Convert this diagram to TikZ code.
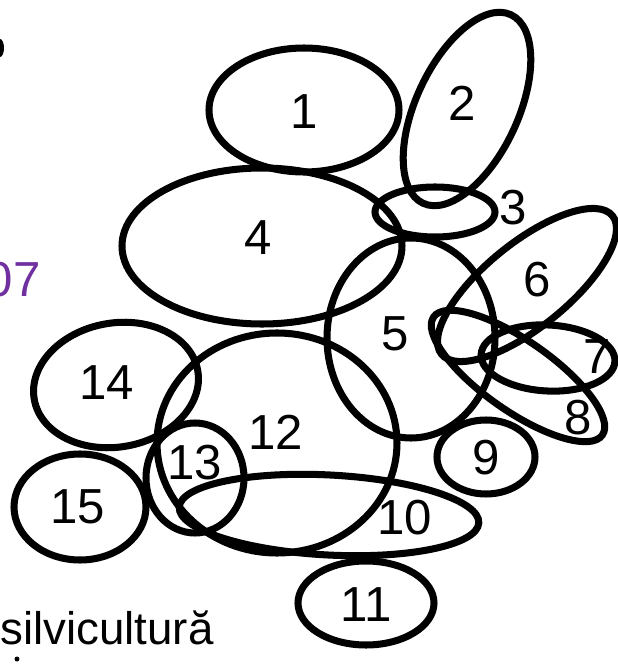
\documentclass[tikz,border=0pt]{standalone}
\usepackage{fontspec}
\setmainfont{Liberation Sans}
\usepackage{xcolor}
\usepackage{tikz}
\tikzstyle{setline} = [draw, line width=4pt]
\tikzstyle{setlabel} = [inner sep=0pt, font=\fontsize{28}{32}\selectfont]
\definecolor{bpurp}{HTML}{7030A0}

\begin{document}
\begin{tikzpicture}[x=0.02cm, y=0.02cm]
    \useasboundingbox (0,0) rectangle (618,664);
    \clip (0,0) rectangle (618,664);

    % sets
    \path[setline] (304,554) ellipse [x radius=95, y radius=62];
    \path[setline, rotate around={65:(467,555)}] (467,555) ellipse [x radius=104, y radius=51];
    \path[setline] (435,452) ellipse [x radius=60, y radius=25];
    \path[setline] (262,418) ellipse [x radius=140, y radius=78];
    \path[setline] (411,326) ellipse [x radius=84, y radius=100];
    \path[setline, rotate around={39:(527,379)}] (527,379) ellipse [x radius=110, y radius=42];
    \path[setline, rotate around={-3:(548,306)}] (548,306) ellipse [x radius=67, y radius=33];
    \path[setline, rotate around={-35:(518,288)}] (518,288) ellipse [x radius=103, y radius=35];
    \path[setline] (486,207) ellipse [x radius=49, y radius=37];
    \path[setline, rotate around={-3:(329,149)}] (329,149) ellipse [x radius=150, y radius=40];
    \path[setline] (366,61) ellipse [x radius=68, y radius=42];
    \path[setline] (277,221) ellipse [x radius=120, y radius=110];
    \path[setline] (195,186) ellipse [x radius=49, y radius=55];
    \path[setline, rotate around={10:(116,279)}] (116,279) ellipse [x radius=83, y radius=62];
    \path[setline] (80,157) ellipse [x radius=66, y radius=53];

    % set numbers
    \node[setlabel] at (304,552) (l1) {1};
    \node[setlabel] at (462,561) (l2) {2};
    \node[setlabel] at (513,456) (l3) {3};
    \node[setlabel] at (258,426) (l4) {4};
    \node[setlabel] at (395,330) (l5) {5};
    \node[setlabel] at (537,384) (l6) {6};
    \node[setlabel] at (597,307) (l7) {7};
    \node[setlabel] at (578,246) (l8) {8};
    \node[setlabel] at (486,206) (l9) {9};
    \node[setlabel] at (405,146) (l10) {10};
    \node[setlabel] at (366,59) (l11) {11};
    \node[setlabel] at (276,232) (l12) {12};
    \node[setlabel] at (195,201) (l13) {13};
    \node[setlabel] at (107,281) (l14) {14};
    \node[setlabel] at (78,157) (l15) {15};

    % cut off text at the left edge
    \node[setlabel, text=bpurp, anchor=base east] at (41,367) (year) {07};
    \node[setlabel, anchor=base west, font=\fontsize{26}{30}\selectfont] at (0,19) (word) {silvicultură};
    \fill (0,616) ellipse [x radius=4, y radius=9];
    \fill (17,5) circle [radius=2.5];
\end{tikzpicture}
\end{document}
